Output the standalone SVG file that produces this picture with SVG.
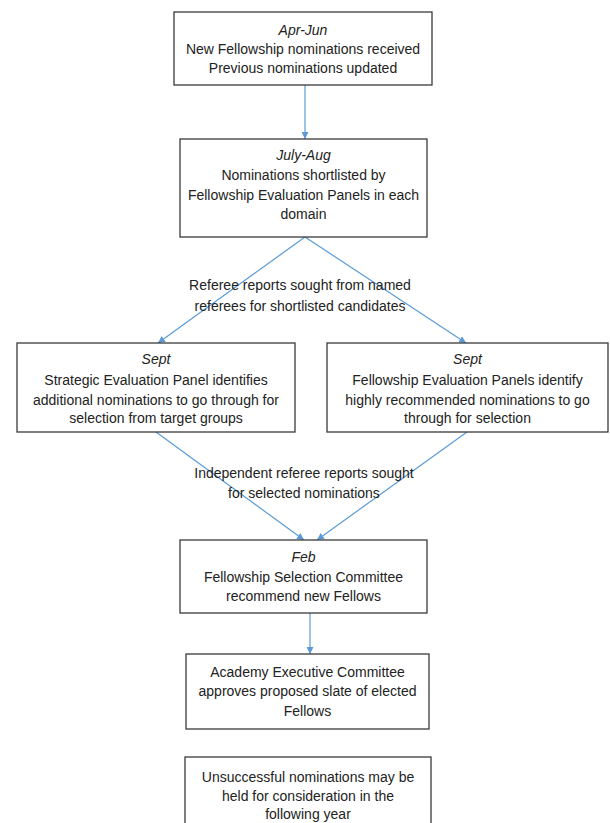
<svg xmlns="http://www.w3.org/2000/svg" width="610" height="823" viewBox="0 0 610 823">
<style>
.box{fill:#fff;stroke:#3a3a3a;stroke-width:1.3}
.t{font-family:"Liberation Sans",Arial,sans-serif;font-size:14px;fill:#222;text-anchor:middle}
.i{font-style:italic}
.c{stroke:#5b9bd5;stroke-width:1.2;fill:none;marker-end:url(#ah)}
</style>
<defs>
<marker id="ah" viewBox="0 0 10 10" refX="10" refY="5" markerWidth="7" markerHeight="7" markerUnits="userSpaceOnUse" orient="auto">
<path d="M0,0 L10,5 L0,10 z" fill="#5b9bd5"/>
</marker>
</defs>
<rect width="610" height="823" fill="#fff"/>
<g id="connectors">
<line class="c" x1="305" y1="85" x2="305" y2="139"/>
<line class="c" x1="305" y1="237" x2="158" y2="343"/>
<line class="c" x1="305" y1="237" x2="466" y2="343"/>
<line class="c" x1="156" y1="432" x2="304" y2="540"/>
<line class="c" x1="467" y1="432" x2="317" y2="540"/>
<line class="c" x1="310" y1="613" x2="310" y2="654"/>
<text class="t" x="300" y="290">Referee reports sought from named</text>
<text class="t" x="300" y="311">referees for shortlisted candidates</text>
<text class="t" x="304" y="478">Independent referee reports sought</text>
<text class="t" x="304" y="498">for selected nominations</text>
</g>
<g id="n1">
<rect class="box" x="174" y="12" width="258" height="73"/>
<text class="t i" x="303" y="35">Apr-Jun</text>
<text class="t" x="303" y="54">New Fellowship nominations received</text>
<text class="t" x="303" y="73">Previous nominations updated</text>
</g>
<g id="n2">
<rect class="box" x="180" y="139" width="247" height="98"/>
<text class="t i" x="303.5" y="160">July-Aug</text>
<text class="t" x="303.5" y="180">Nominations shortlisted by</text>
<text class="t" x="303.5" y="200">Fellowship Evaluation Panels in each</text>
<text class="t" x="303.5" y="219">domain</text>
</g>
<g id="n3">
<rect class="box" x="17" y="343" width="278" height="89"/>
<text class="t i" x="156" y="364">Sept</text>
<text class="t" x="156" y="385">Strategic Evaluation Panel identifies</text>
<text class="t" x="156" y="405">additional nominations to go through for</text>
<text class="t" x="156" y="423">selection from target groups</text>
</g>
<g id="n4">
<rect class="box" x="327" y="343" width="281" height="89"/>
<text class="t i" x="467.5" y="364">Sept</text>
<text class="t" x="467.5" y="385">Fellowship Evaluation Panels identify</text>
<text class="t" x="467.5" y="405">highly recommended nominations to go</text>
<text class="t" x="467.5" y="423">through for selection</text>
</g>
<g id="n5">
<rect class="box" x="180" y="540" width="247" height="73"/>
<text class="t i" x="303.5" y="562">Feb</text>
<text class="t" x="303.5" y="582">Fellowship Selection Committee</text>
<text class="t" x="303.5" y="601">recommend new Fellows</text>
</g>
<g id="n6">
<rect class="box" x="186" y="654" width="243" height="75"/>
<text class="t" x="307.5" y="677">Academy Executive Committee</text>
<text class="t" x="307.5" y="696">approves proposed slate of elected</text>
<text class="t" x="307.5" y="716">Fellows</text>
</g>
<g id="n7">
<rect class="box" x="185" y="757" width="246" height="75"/>
<text class="t" x="308" y="782">Unsuccessful nominations may be</text>
<text class="t" x="308" y="801">held for consideration in the</text>
<text class="t" x="308" y="819">following year</text>
</g>
</svg>
